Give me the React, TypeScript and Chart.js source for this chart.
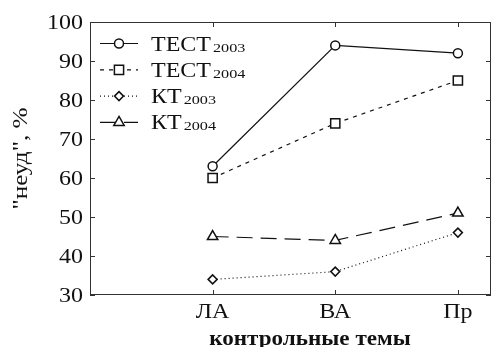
import React, { useEffect, useRef } from "react";
import { Chart, registerables } from "chart.js";
import { drawPoint } from "chart.js/helpers";

Chart.register(...registerables);

const categories = ["ЛА", "ВА", "Пр"];
const categoryPos = [1, 2, 3];
const yTicks = [30, 40, 50, 60, 70, 80, 90, 100];
const test2003 = [63, 94, 92];
const test2004 = [60, 74, 85];
const kt2003 = [34, 36, 46];
const kt2004 = [45, 44, 51];
const seriesNames = ["ТЕСТ", "ТЕСТ", "КТ", "КТ"];
const seriesSubs = ["2003", "2004", "2003", "2004"];
const xTitle = "контрольные темы";
const yTitle = '"неуд", %';

const INK = "#111";
const SERIF = '"Liberation Serif", "Times New Roman", serif';

function drawStretched(
  ctx: CanvasRenderingContext2D,
  text: string,
  x: number,
  y: number,
  font: string,
  sx: number,
  align: "left" | "center" | "right",
  baseline: CanvasTextBaseline
) {
  ctx.save();
  ctx.font = font;
  ctx.textAlign = "left";
  ctx.textBaseline = baseline;
  const w = ctx.measureText(text).width * sx;
  const x0 = align === "center" ? x - w / 2 : align === "right" ? x - w : x;
  ctx.translate(x0, y);
  ctx.scale(sx, 1);
  ctx.fillStyle = INK;
  ctx.fillText(text, 0, 0);
  ctx.restore();
  return w;
}

const framePlugin = {
  id: "frame",
  beforeDatasetsDraw(chart: any) {
    const ctx = chart.ctx as CanvasRenderingContext2D;
    const a = chart.chartArea;
    const xs = chart.scales.x;
    const ys = chart.scales.y;
    ctx.save();
    ctx.strokeStyle = "#333";
    ctx.lineWidth = 1;
    ctx.strokeRect(a.left + 0.5, a.top + 0.5, a.right - a.left - 1, a.bottom - a.top - 1);
    const tl = 5;
    ctx.beginPath();
    yTicks.forEach((v) => {
      const py = Math.round(ys.getPixelForValue(v)) + 0.5;
      ctx.moveTo(a.left, py);
      ctx.lineTo(a.left + tl, py);
      ctx.moveTo(a.right, py);
      ctx.lineTo(a.right - tl, py);
    });
    categoryPos.forEach((c) => {
      const px = Math.round(xs.getPixelForValue(c)) + 0.5;
      ctx.moveTo(px, a.bottom);
      ctx.lineTo(px, a.bottom - tl);
      ctx.moveTo(px, a.top);
      ctx.lineTo(px, a.top + tl);
    });
    ctx.stroke();
    ctx.restore();

    const tickFont = `20px ${SERIF}`;
    yTicks.forEach((v) => {
      const py = ys.getPixelForValue(v);
      drawStretched(ctx, String(v), a.left - 7, py + 7, tickFont, 1.2, "right", "alphabetic");
    });
    categoryPos.forEach((c, i) => {
      const px = xs.getPixelForValue(c);
      drawStretched(ctx, categories[i], px, a.bottom + 23, tickFont, 1.2, "center", "alphabetic");
    });
    drawStretched(ctx, xTitle, 310, 345, `bold 22px ${SERIF}`, 1.05, "center", "alphabetic");

    ctx.save();
    ctx.translate(21, (a.top + a.bottom) / 2);
    ctx.rotate(-Math.PI / 2);
    drawStretched(ctx, yTitle, 0, 0, `21px ${SERIF}`, 1.2, "center", "middle");
    ctx.restore();
  },
  afterDraw(chart: any) {
    const ctx = chart.ctx as CanvasRenderingContext2D;
    chart.data.datasets.forEach((ds: any, i: number) => {
      const y = 43.5 + 26.3 * i;
      ctx.save();
      ctx.strokeStyle = INK;
      ctx.lineWidth = 1.2;
      ctx.setLineDash(ds.borderDash || []);
      ctx.beginPath();
      ctx.moveTo(100, y);
      ctx.lineTo(138, y);
      ctx.stroke();
      ctx.setLineDash([]);
      ctx.fillStyle = "#fff";
      ctx.strokeStyle = INK;
      ctx.lineWidth = 1.5;
      drawPoint(ctx, { pointStyle: ds.pointStyle, radius: ds.pointRadius, borderWidth: 1.5, rotation: 0 } as any, 119, y);
      ctx.restore();
      const w = drawStretched(ctx, seriesNames[i], 151, y + 7, `20px ${SERIF}`, 1.2, "left", "alphabetic");
      drawStretched(ctx, seriesSubs[i], 151 + w + 2, y + 8, `12px ${SERIF}`, 1.35, "left", "alphabetic");
    });
  },
};

function toPoints(vals: number[]) {
  return vals.map((v, i) => ({ x: categoryPos[i], y: v }));
}

export default function App() {
  const ref = useRef<HTMLCanvasElement>(null);
  useEffect(() => {
    document.body.style.margin = "0";
    const common = {
      borderColor: INK,
      borderWidth: 1.2,
      pointBackgroundColor: "#fff",
      pointBorderColor: INK,
      pointBorderWidth: 1.5,
      fill: false,
      tension: 0,
    };
    const chart = new Chart(ref.current!, {
      type: "line",
      data: {
        datasets: [
          { ...common, label: "ТЕСТ2003", data: toPoints(test2003), pointStyle: "circle", pointRadius: 4.5, borderDash: [] },
          { ...common, label: "ТЕСТ2004", data: toPoints(test2004), pointStyle: "rect", pointRadius: 6.5, borderDash: [4, 5] },
          { ...common, label: "КТ2003", data: toPoints(kt2003), pointStyle: "rectRot", pointRadius: 4.5, borderDash: [1, 3] },
          { ...common, label: "КТ2004", data: toPoints(kt2004), pointStyle: "triangle", pointRadius: 6, borderDash: [16, 8] },
        ] as any,
      },
      options: {
        animation: false,
        responsive: false,
        events: [],
        layout: { padding: { left: 90, top: 22, right: 4, bottom: 52 } },
        plugins: { legend: { display: false }, tooltip: { enabled: false } },
        scales: {
          x: { type: "linear", min: 0, max: 3.27, display: false },
          y: { type: "linear", min: 30, max: 100, display: false },
        },
      },
      plugins: [framePlugin],
    });
    return () => chart.destroy();
  }, []);
  return (
    <div style={{ position: "absolute", left: 0, top: 0, width: 499, height: 347, background: "#fff" }}>
      <canvas ref={ref} width={499} height={347} style={{ width: 499, height: 347, display: "block" }} />
    </div>
  );
}
